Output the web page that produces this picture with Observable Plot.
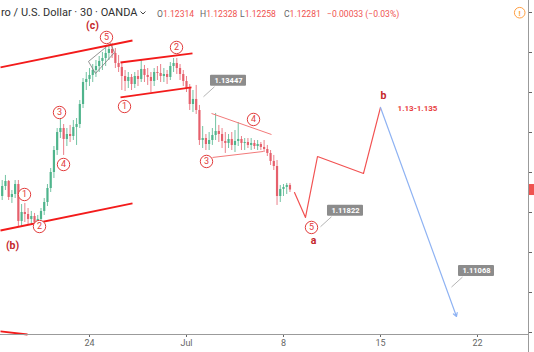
<!DOCTYPE html>
<html>
<head>
<meta charset="utf-8">
<script src="https://cdn.jsdelivr.net/npm/d3@7"></script>
<script src="https://cdn.jsdelivr.net/npm/@observablehq/plot@0.6"></script>
<style>
html, body { margin: 0; padding: 0; background: #fff; overflow: hidden; }
#chart svg { display: block; }
</style>
</head>
<body>
<div id="chart"></div>
<script>
// ---------------- DATA ----------------
// EUR/USD, 4-hour bars; time in trading days relative to Mon 24 Jun
const barStart = -4.5;
const barStep = 1 / 6;
const firstOpen = 1.12200;
const highs = [
  1.12400,1.12463,1.12400,1.12275,1.12400,1.12400,1.12100,1.12113,1.12050,1.12013,
  1.11988,1.11963,1.12050,1.12175,1.12350,1.12550,1.12825,1.13050,1.13175,1.13100,
  1.13050,1.13088,1.13150,1.13175,1.13400,1.13675,1.13750,1.13800,1.13850,1.13900,
  1.13950,1.14000,1.14050,1.14088,1.14113,1.14050,1.13963,1.13875,1.13775,1.13750,
  1.13725,1.13750,1.13775,1.13900,1.13838,1.13800,1.13750,1.13800,1.13825,1.13850,
  1.13800,1.13775,1.13875,1.13925,1.13925,1.13850,1.13775,1.13700,1.13600,1.13525,
  1.13588,1.13338,1.13075,1.12975,1.13000,1.13050,1.13238,1.13088,1.13050,1.13000,
  1.12975,1.13000,1.13025,1.13125,1.12950,1.12925,1.12925,1.12925,1.12900,1.12900,
  1.12875,1.12900,1.12838,1.12775,1.12713,1.12650,1.12338,1.12350,1.12363,1.12363];
const lows = [
  1.12150,1.12275,1.12150,1.12113,1.12175,1.11825,1.11813,1.11875,1.11850,1.11850,
  1.11825,1.11800,1.11850,1.11963,1.12075,1.12250,1.12425,1.12713,1.12925,1.12713,
  1.12825,1.12875,1.12900,1.12838,1.13050,1.13300,1.13525,1.13575,1.13625,1.13688,
  1.13750,1.13775,1.13825,1.13900,1.13925,1.13800,1.13750,1.13525,1.13513,1.13550,
  1.13525,1.13550,1.13575,1.13625,1.13625,1.13588,1.13500,1.13575,1.13650,1.13625,
  1.13625,1.13600,1.13650,1.13750,1.13725,1.13650,1.13575,1.13500,1.13275,1.13250,
  1.13225,1.12838,1.12800,1.12775,1.12775,1.12838,1.12900,1.12875,1.12800,1.12738,
  1.12800,1.12775,1.12750,1.12825,1.12775,1.12775,1.12800,1.12775,1.12788,1.12775,
  1.12775,1.12750,1.12700,1.12588,1.12525,1.12088,1.12125,1.12200,1.12225,1.12250];
const closes = [
  1.12325,1.12388,1.12188,1.12225,1.12350,1.11888,1.12000,1.11975,1.11913,1.11950,
  1.11875,1.11913,1.12013,1.12125,1.12300,1.12500,1.12775,1.13000,1.13050,1.12913,
  1.12975,1.12950,1.13063,1.13100,1.13350,1.13625,1.13663,1.13713,1.13775,1.13825,
  1.13888,1.13925,1.13988,1.14038,1.13988,1.13863,1.13813,1.13700,1.13638,1.13688,
  1.13600,1.13700,1.13663,1.13788,1.13713,1.13688,1.13638,1.13750,1.13738,1.13700,
  1.13725,1.13688,1.13825,1.13863,1.13800,1.13725,1.13638,1.13550,1.13350,1.13413,
  1.13275,1.12900,1.12925,1.12850,1.12900,1.12963,1.13013,1.12975,1.12888,1.12863,
  1.12913,1.12838,1.12888,1.12913,1.12863,1.12875,1.12838,1.12863,1.12825,1.12850,
  1.12813,1.12788,1.12738,1.12638,1.12575,1.12200,1.12288,1.12313,1.12338,1.12281];

// axis ticks
const tickDays = [0, 5, 10, 15, 20];
const tickLabels = ["24", "Jul", "8", "15", "22"];
const priceTicks = [1.105, 1.11, 1.115, 1.12, 1.125, 1.13, 1.135, 1.14, 1.145];

// header values
const titleText = "ro / U.S. Dollar · 30 · OANDA";
const ohlcLetters = ["O", "H", "L", "C"];
const ohlcValues = ["1.12314", "1.12328", "1.12258", "1.12281"];
const changeText = "−0.00033 (−0.03%)";

// trend lines (thick red channels)
const channelT1 = [-4.588, -4.588, 1.598, 1.598, -4.588];
const channelP1 = [1.13813, 1.11775, 1.13875, 1.13438, 1.10513];
const channelT2 = [2.216, 2.216, 5.309, 5.258, -3.196];
const channelP2 = [1.14150, 1.12113, 1.13988, 1.13563, 1.10475];

// triangle (thin red)
const triT1 = [6.289, 6.340];
const triP1 = [1.13238, 1.12688];
const triT2 = [9.381, 8.969];
const triP2 = [1.12975, 1.12763];

// ending-diagonal sketch at wave (5)
const wedgeT1 = [-0.052, 0.309, -0.052, 1.082];
const wedgeP1 = [1.13888, 1.13738, 1.13888, 1.14113];
const wedgeT2 = [1.082, 1.289, 0.309, 1.289];
const wedgeP2 = [1.14113, 1.14000, 1.13738, 1.14000];

// projected path a-b (red) and c (blue arrow)
const projT = [10.567, 11.134, 11.753, 14.124, 15.0];
const projP = [1.12250, 1.11938, 1.12700, 1.12488, 1.13313];
const arrowT = [15.0, 18.918];
const arrowP = [1.13313, 1.10700];

// circled wave counts
const countText = ["1", "2", "3", "4", "5", "1", "2", "3", "4", "5"];
const countT = [-3.351, -2.577, -1.546, -1.340, 0.876, 1.804, 4.485, 6.031, 8.454, 11.443];
const countP = [1.12225, 1.11825, 1.13250, 1.12600, 1.14188, 1.13325, 1.14063, 1.12638, 1.13163, 1.11813];

// letter wave labels
const letterText = ["(c)", "(b)", "a", "b"];
const letterT = [0.155, -3.969, 11.546, 15.155];
const letterP = [1.14331, 1.11588, 1.11650, 1.13463];

// target text
const targetText = ["1.13-1.135"];
const targetT = [16.907];
const targetP = [1.13300];

// price callouts
const calloutLabel = ["1.13447", "1.11822", "1.11068"];
const calloutT = [5.876, 11.907, 18.660];

// ---------------- BUILD ----------------
const W = 534, H = 352, mR = 6, mB = 18;
const xDomain = [-4.5876, 22.6289];
const yDomain = [1.10475, 1.1465];
const kx = (W - mR) / (xDomain[1] - xDomain[0]);
const ky = (H - mB) / (yDomain[1] - yDomain[0]);

const candles = highs.map((h, i) => ({
  t: barStart + i * barStep,
  open: i === 0 ? firstOpen : closes[i - 1],
  high: h, low: lows[i], close: closes[i]
}));
const up = "#4fb48c", down = "#e6606c";
const col = d => d.close >= d.open ? up : down;

const seg = (a1, b1, a2, b2) => a1.map((_, i) => ({t1: a1[i], p1: b1[i], t2: a2[i], p2: b2[i]}));
const channels = seg(channelT1, channelP1, channelT2, channelP2);
const triangle = seg(triT1, triP1, triT2, triP2);
const wedge = seg(wedgeT1, wedgeP1, wedgeT2, wedgeP2);
const proj = projT.map((t, i) => ({t, p: projP[i]}));
const arrow = [{t1: arrowT[0], p1: arrowP[0], t2: arrowT[1], p2: arrowP[1]}];
const counts = countText.map((s, i) => ({s, t: countT[i], p: countP[i]}));
const letters = letterText.map((s, i) => ({s, t: letterT[i], p: letterP[i]}));
const targets = targetText.map((s, i) => ({s, t: targetT[i], p: targetP[i]}));
const callouts = calloutLabel.map((s, i) => ({s, t: calloutT[i], p: +s}));
const last = [candles[candles.length - 1]];

const boxDx = 25, boxDy = -16, ptrDx = 11, ptrDy = -10;

const chart = Plot.plot({
  width: W, height: H,
  marginLeft: 0, marginRight: mR, marginTop: 0, marginBottom: mB,
  style: {fontFamily: "Roboto, sans-serif", fontSize: "9px", color: "#666", background: "#fff", overflow: "visible"},
  x: {type: "linear", domain: xDomain, ticks: tickDays, tickFormat: d => tickLabels[tickDays.indexOf(d)], tickSize: 3, tickPadding: 2, label: null},
  y: {domain: yDomain, axis: "right", ticks: priceTicks, tickFormat: () => "", tickSize: 3, label: null},
  marks: [
    // candles
    Plot.ruleX(candles, {x: "t", y1: "low", y2: "high", stroke: col, strokeWidth: 0.8}),
    Plot.ruleX(candles, {x: "t", y1: "open", y2: "close", stroke: col, strokeWidth: 2.2}),
    // wedge sketch
    Plot.link(wedge, {x1: "t1", y1: "p1", x2: "t2", y2: "p2", stroke: "#777", strokeWidth: 0.8}),
    // channels
    Plot.link(channels, {x1: "t1", y1: "p1", x2: "t2", y2: "p2", stroke: "#f31b1b", strokeWidth: 1.8}),
    // triangle
    Plot.link(triangle, {x1: "t1", y1: "p1", x2: "t2", y2: "p2", stroke: "#f27a7a", strokeWidth: 1}),
    // projection
    Plot.line(proj, {x: "t", y: "p", stroke: "#f25252", strokeWidth: 1.2}),
    Plot.arrow(arrow, {x1: "t1", y1: "p1", x2: "t2", y2: "p2", stroke: "#8fb3f3", strokeWidth: 1.2, headLength: 5}),
    // callouts
    Plot.link(callouts, {x1: "t", y1: "p", x2: d => d.t + ptrDx / kx, y2: d => d.p - ptrDy / ky, stroke: "#b5b5b5", strokeWidth: 1}),
    Plot.rect(callouts, {x1: "t", x2: "t", y1: "p", y2: "p", insetLeft: -18, insetRight: -18, insetTop: -5.5, insetBottom: -5.5, dx: boxDx, dy: boxDy, fill: "#8c8c8c", rx: 1}),
    Plot.text(callouts, {x: "t", y: "p", text: "s", dx: boxDx, dy: boxDy, fill: "#fff", fontSize: 7.5, fontWeight: "bold"}),
    // circled counts
    Plot.dot(counts, {x: "t", y: "p", r: 6.2, stroke: "#e23c3c", fill: "#fff", strokeWidth: 1}),
    Plot.text(counts, {x: "t", y: "p", text: "s", fill: "#e23c3c", fontSize: 9}),
    // letters
    Plot.text(letters, {x: "t", y: "p", text: "s", fill: "#c4262b", fontSize: 10.5, fontWeight: "bold"}),
    Plot.text(targets, {x: "t", y: "p", text: "s", fill: "#e8413f", fontSize: 8, fontWeight: "bold"}),
    // axes lines
    Plot.ruleY([yDomain[0]], {stroke: "#9b9b9b"}),
    Plot.ruleX([xDomain[1]], {stroke: "#9b9b9b", insetBottom: -mB}),
    // last price tag
    Plot.rect(last, {x1: xDomain[1], x2: xDomain[1], y1: "close", y2: "close", insetLeft: 1, insetRight: -mR, insetTop: -5.5, insetBottom: -5.5, fill: "#ef5350"})
  ]
});
document.getElementById("chart").appendChild(chart);

// header (overlay text)
const svg = d3.select(chart);
const hdr = svg.append("g").attr("font-family", "Roboto, sans-serif").attr("text-anchor", "start");
hdr.append("text").attr("x", 1).attr("y", 16).attr("font-size", 11).attr("fill", "#2f2f2f").text(titleText);
hdr.append("path").attr("d", "M140.5,11.5 L143,14 L145.5,11.5").attr("fill", "none").attr("stroke", "#444").attr("stroke-width", 1);
const ohlcX = [157, 200, 240, 284];
ohlcLetters.forEach((L, i) => {
  const t = hdr.append("text").attr("x", ohlcX[i]).attr("y", 16.5).attr("font-size", 8.6);
  t.append("tspan").attr("fill", "#666").text(L);
  t.append("tspan").attr("fill", "#ef5350").text(ohlcValues[i]);
});
hdr.append("text").attr("x", 327).attr("y", 16.5).attr("font-size", 8.6).attr("fill", "#ef5350").text(changeText);
hdr.append("circle").attr("cx", 519.7).attr("cy", 12.7).attr("r", 5.3).attr("fill", "none").attr("stroke", "#ff9f43").attr("stroke-width", 1);
hdr.append("text").attr("x", 519.7).attr("y", 15.8).attr("text-anchor", "middle").attr("font-size", 8).attr("font-weight", "bold").attr("fill", "#ff9f43").text("!");
</script>
</body>
</html>
